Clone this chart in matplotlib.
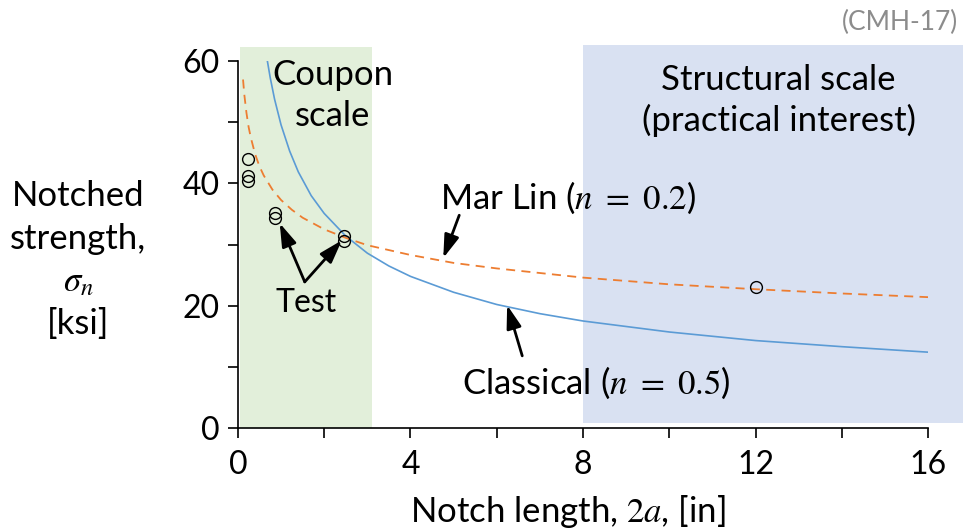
import matplotlib
matplotlib.use("Agg")
import matplotlib.pyplot as plt
from matplotlib.patches import Rectangle

plt.rcParams["font.family"] = ["Lato", "DejaVu Sans"]
plt.rcParams["mathtext.fontset"] = "stix"

# ── data ──
classical_x = [0.67, 0.75, 0.85, 1.0, 1.2, 1.4, 1.7, 2.0, 2.5, 3.0, 3.5, 4.0,
               5.0, 6.0, 7.0, 8.0, 10.0, 12.0, 14.0, 16.0]
classical_y = [60.6, 57.3, 53.8, 49.6, 45.3, 41.9, 38.0, 35.1, 31.4, 28.6, 26.5, 24.8,
               22.2, 20.2, 18.7, 17.5, 15.7, 14.3, 13.3, 12.4]

marlin_x = [0.12, 0.15, 0.2, 0.25, 0.3, 0.4, 0.5, 0.6, 0.8, 1.0, 1.25, 1.5, 2.0,
            2.5, 3.0, 4.0, 5.0, 6.0, 8.0, 10.0, 12.0, 14.0, 16.0]
marlin_y = [57.0, 54.5, 51.5, 49.2, 47.5, 44.8, 42.8, 41.3, 39.0, 37.3, 35.7, 34.4, 32.5,
            31.1, 29.9, 28.3, 27.0, 26.1, 24.6, 23.5, 22.7, 22.0, 21.4]

test_x = [0.23, 0.23, 0.23, 0.86, 0.86, 2.46, 2.46, 12.0]
test_y = [44.0, 41.2, 40.4, 35.1, 34.3, 31.4, 30.6, 23.0]

x_ticks = [0, 4, 8, 12, 16]
y_ticks = [0, 20, 40, 60]

# ── figure ──
fig = plt.figure(figsize=(9.63, 5.32), dpi=100)
ax = fig.add_axes([0.247, 0.1955, 0.717, 0.6895])

# scale regions (extend past the axes box)
ax.add_patch(Rectangle((0.05, 0), 3.05, 62.3, facecolor="#E2EFDA", edgecolor="none",
                       clip_on=False, zorder=0))
ax.add_patch(Rectangle((8.0, 0.8), 8.8, 61.8, facecolor="#D9E1F2", edgecolor="none",
                       clip_on=False, zorder=0))

ax.plot(classical_x, classical_y, color="#5B9BD5", lw=1.2, zorder=2)
ax.plot(marlin_x, marlin_y, color="#ED7D31", lw=1.3, dashes=(5, 3.5), zorder=2)
ax.plot(test_x, test_y, linestyle="none", marker="o", markersize=8.5,
        markerfacecolor="none", markeredgecolor="black", markeredgewidth=1.0, zorder=3)

ax.set_xlim(0, 16)
ax.set_ylim(0, 60)
ax.set_xticks(x_ticks)
ax.set_xticks([2, 6, 10, 14], minor=True)
ax.set_yticks(y_ticks)
ax.set_yticks([10, 30, 50], minor=True)
ax.tick_params(which="both", direction="out", length=7, width=1.2, labelsize=23)
ax.tick_params(axis="x", pad=9)
ax.tick_params(axis="y", pad=6)
for s in ["top", "right"]:
    ax.spines[s].set_visible(False)
for s in ["left", "bottom"]:
    ax.spines[s].set_linewidth(1.2)
ax.set_facecolor("none")

# ── labels ──
fs = 25
ax.text(2.2, 54.4, "Coupon\nscale", fontsize=fs, ha="center", va="center", linespacing=1.35)
ax.text(12.53, 53.6, "Structural scale\n(practical interest)", fontsize=fs,
        ha="center", va="center", linespacing=1.3)
ax.text(7.66, 37.7, "Mar Lin ($n\\ =\\ 0.2$)", fontsize=fs, ha="center", va="center")
ax.text(8.31, 7.4, "Classical ($n\\ =\\ 0.5$)", fontsize=fs, ha="center", va="center")
ax.text(1.58, 20.4, "Test", fontsize=23, ha="center", va="center")

arrow = dict(arrowstyle="-|>,head_length=1.4,head_width=0.45", color="black", lw=2,
             shrinkA=0, shrinkB=0)
ax.annotate("", xy=(4.76, 27.8), xytext=(5.13, 34.8), arrowprops=arrow)
ax.annotate("", xy=(6.24, 20.1), xytext=(6.59, 11.8), arrowprops=arrow)
ax.annotate("", xy=(0.97, 33.5), xytext=(1.55, 23.9), arrowprops=arrow)
ax.annotate("", xy=(2.41, 30.7), xytext=(1.55, 23.9), arrowprops=arrow)

fig.text(0.081, 0.511, "Notched\nstrength,\n$\\sigma_n$\n[ksi]", fontsize=fs,
         ha="center", va="center", linespacing=1.4)
fig.text(0.590, 0.039, "Notch length, $2a$, [in]", fontsize=fs, ha="center", va="center")
fig.text(0.995, 0.958, "(CMH-17)", fontsize=19, color="#8C8C8C", ha="right", va="center")

fig.savefig("out.png", dpi=100)
